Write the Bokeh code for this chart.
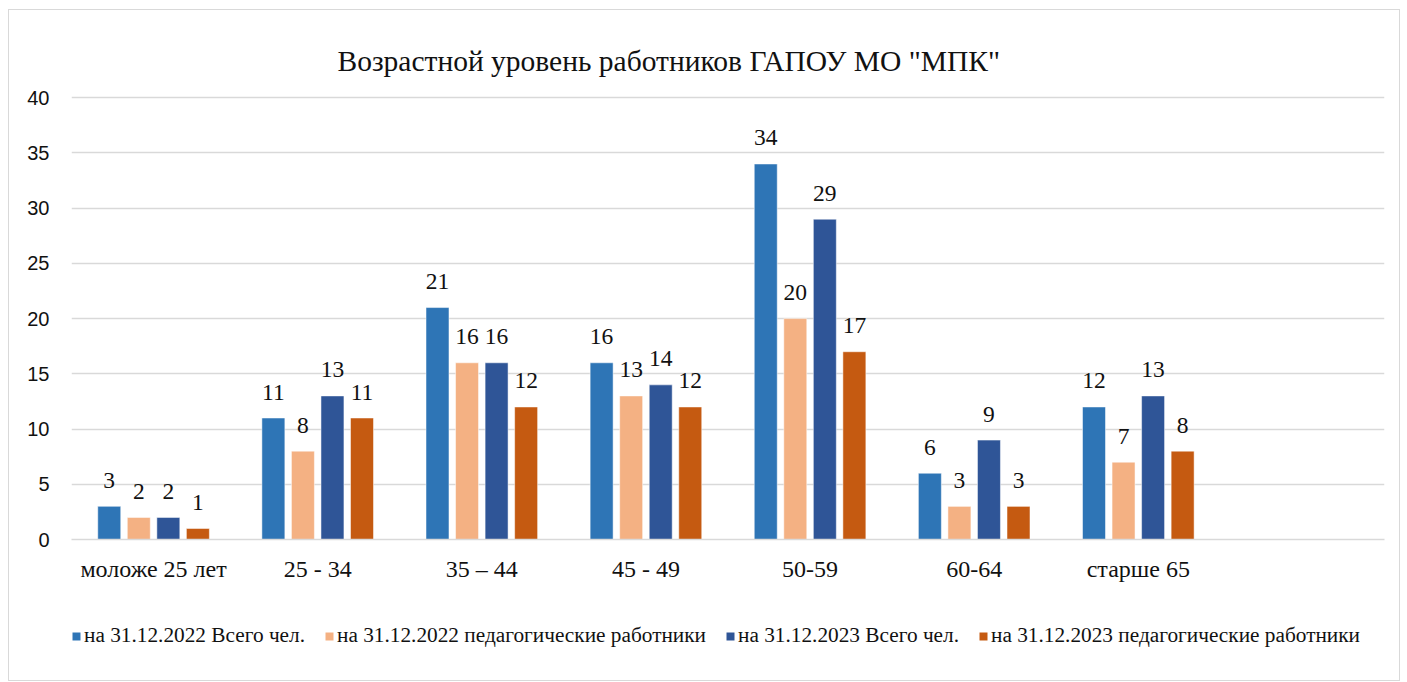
from bokeh.plotting import figure
from bokeh.layouts import column
from bokeh.models import (FactorRange, Range1d, ColumnDataSource, LabelSet, Legend, LegendItem,
                          Title)
from bokeh.transform import dodge
from bokeh.embed import file_html
from bokeh.resources import INLINE

categories = ["моложе 25 лет", "25 - 34", "35 – 44", "45 - 49", "50-59", "60-64", "старше 65"]
series_names = ["на 31.12.2022 Всего чел.", "на 31.12.2022 педагогические работники",
                "на 31.12.2023 Всего чел.", "на 31.12.2023 педагогические работники"]
total_2022 = [3, 11, 21, 16, 34, 6, 12]
ped_2022 = [2, 8, 16, 13, 20, 3, 7]
total_2023 = [2, 13, 16, 14, 29, 9, 13]
ped_2023 = [1, 11, 12, 12, 17, 3, 8]
colors = ["#2E75B6", "#F4B183", "#2F5597", "#C55A11"]
y_ticks = [0, 5, 10, 15, 20, 25, 30, 35, 40]

factors = categories + [" "]
series = [total_2022, ped_2022, total_2023, ped_2023]
keys = ["s0", "s1", "s2", "s3"]
data = {"cat": categories}
for k, s in zip(keys, series):
    data[k] = s
    data[k + "_t"] = [str(v) for v in s]
src = ColumnDataSource(data)

SERIF = "Liberation Serif"
TXT = "#111111"

p = figure(width=1390, height=600, x_range=FactorRange(*factors, range_padding=0),
           y_range=Range1d(0, 40.2), output_backend="svg", toolbar_location=None,
           min_border_left=62, min_border_right=15, min_border_top=85, min_border_bottom=71)
p.outline_line_color = None

p.title = Title(text='Возрастной уровень работников ГАПОУ МО "МПК"', align="left", offset=266,
                text_font=SERIF, text_font_size="29.5px", text_font_style="normal",
                text_color=TXT, standoff=37)

offsets = [-0.27, -0.09, 0.09, 0.27]
renderers = []
for k, c, off in zip(keys, colors, offsets):
    r = p.vbar(x=dodge("cat", off, range=p.x_range), top=k, width=0.14, source=src,
               fill_color=c, line_color="white", line_width=0.5)
    renderers.append(r)
    lbl = LabelSet(x=dodge("cat", off, range=p.x_range), y=k, text=k + "_t", source=src,
                   text_align="center", text_baseline="middle", y_offset=26,
                   text_font=SERIF, text_font_size="23.5px", text_color=TXT)
    p.add_layout(lbl)

p.yaxis.ticker = y_ticks
p.yaxis.axis_line_color = None
p.yaxis.major_tick_line_color = None
p.yaxis.minor_tick_line_color = None
p.yaxis.major_label_text_font = "Liberation Sans"
p.yaxis.major_label_text_font_size = "20px"
p.yaxis.major_label_text_color = TXT
p.yaxis.major_label_standoff = 16

p.xaxis.axis_line_color = "#d9d9d9"
p.xaxis.axis_line_width = 1.5
p.xaxis.major_tick_line_color = None
p.xaxis.minor_tick_line_color = None
p.xaxis.major_label_text_font = SERIF
p.xaxis.major_label_text_font_size = "24px"
p.xaxis.major_label_text_color = TXT
p.xaxis.major_label_standoff = 10

p.xgrid.grid_line_color = None
p.ygrid.grid_line_color = "#d9d9d9"
p.ygrid.grid_line_width = 1.5

# legend strip below the chart (its bars sit outside the visible y range; they only feed the legend)
p2 = figure(width=1390, height=70, x_range=FactorRange(*factors, range_padding=0),
            y_range=Range1d(1000, 1001), output_backend="svg", toolbar_location=None,
            min_border=0, x_axis_location=None, y_axis_location=None)
p2.grid.visible = False
p2.outline_line_color = None
legend_renderers = []
for k, c in zip(keys, colors):
    legend_renderers.append(p2.vbar(x="cat", top=k, width=0.14, source=src,
                                    fill_color=c, line_color=None, visible=False))
legend = Legend(items=[LegendItem(label=n, renderers=[r])
                       for n, r in zip(series_names, legend_renderers)],
                orientation="horizontal", location=(0, 32),
                label_text_font=SERIF, label_text_font_size="21.3px",
                label_text_color=TXT, glyph_width=10, glyph_height=10,
                label_standoff=3, spacing=19, border_line_color=None, margin=0,
                padding=0, background_fill_alpha=0, inactive_fill_alpha=0)
p2.add_layout(legend)

layout = column(p, p2, spacing=0,
                styles={"border": "1px solid #d9d9d9", "margin-left": "8px", "margin-top": "9px"})

open("out.html", "w").write(file_html(layout, INLINE))
